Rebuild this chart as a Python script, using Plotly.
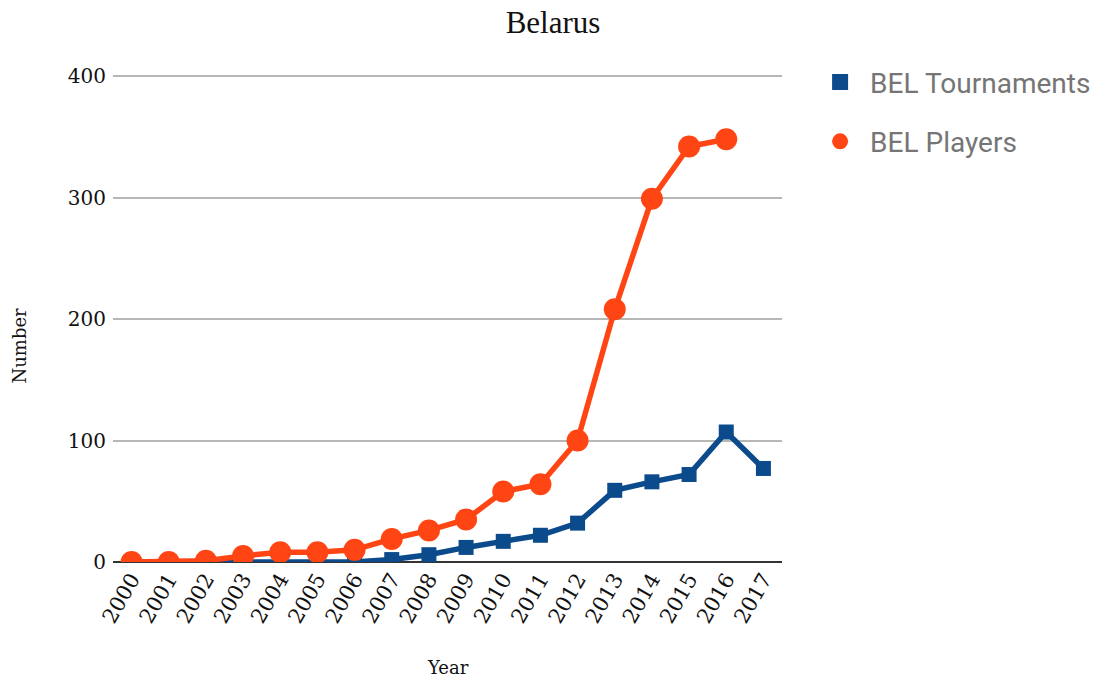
import plotly.graph_objects as go

years = [str(y) for y in range(2000, 2018)]
tournaments = [0, 0, 0, 0, 0, 0, 0, 2, 6, 12, 17, 22, 32, 59, 66, 72, 107, 77]
players = [0, 0, 1, 5, 8, 8, 10, 19, 26, 35, 58, 64, 100, 208, 299, 342, 348, None]
y_ticks = [0, 100, 200, 300, 400]

BLUE = "#0b4a8b"
ORANGE = "#ff4514"
SERIF = "DejaVu Serif"

fig = go.Figure()
fig.add_trace(go.Scatter(
    x=years, y=tournaments, name="BEL Tournaments", mode="lines+markers",
    line=dict(color=BLUE, width=5.5), marker=dict(symbol="square", size=15, color=BLUE),
    showlegend=False,
))
fig.add_trace(go.Scatter(
    x=years, y=players, name="BEL Players", mode="lines+markers",
    line=dict(color=ORANGE, width=5.5), marker=dict(symbol="circle", size=22, color=ORANGE),
    showlegend=False,
))
# marker-only legend entries
fig.add_trace(go.Scatter(
    x=[None], y=[None], name="BEL Tournaments", mode="markers",
    marker=dict(symbol="square", size=18, color=BLUE), legendgroup="t",
))
fig.add_trace(go.Scatter(
    x=[None], y=[None], name="BEL Players", mode="markers",
    marker=dict(symbol="circle", size=26, color=ORANGE), legendgroup="p",
))

fig.update_layout(
    width=1106, height=682,
    margin=dict(l=113, r=324, t=70, b=120, autoexpand=False),
    paper_bgcolor="white", plot_bgcolor="white",
    title=dict(text="Belarus", x=0.5, xanchor="center", y=0.967, yanchor="middle",
               font=dict(family="Liberation Serif", size=31, color="#111")),
    legend=dict(x=1.042, xanchor="left", y=1.026, yanchor="top",
                font=dict(family="Roboto", size=28, color="#757575"),
                tracegroupgap=20, itemsizing="trace", itemwidth=50),
    xaxis=dict(
        type="category", range=[-0.5, 17.5], tickangle=-60,
        tickfont=dict(family=SERIF, size=21, color="#111"),
        showgrid=False, showline=False, ticks="",
    ),
    yaxis=dict(
        range=[0, 405], tickvals=y_ticks,
        tickfont=dict(family=SERIF, size=20, color="#111"),
        showgrid=True, gridcolor="#b7b7b7", gridwidth=2,
        zeroline=True, zerolinecolor="#333", zerolinewidth=2,
        ticks="", ticklabelstandoff=6,
    ),
    annotations=[
        dict(text="Number", xref="paper", yref="paper", x=-0.139, y=0.44,
             xanchor="center", yanchor="middle", textangle=-90, showarrow=False,
             font=dict(family=SERIF, size=18, color="#111")),
        dict(text="Year", xref="paper", yref="paper", x=0.5, y=-0.215,
             xanchor="center", yanchor="middle", showarrow=False,
             font=dict(family=SERIF, size=18, color="#111")),
    ],
)

fig.write_html("out.html")
